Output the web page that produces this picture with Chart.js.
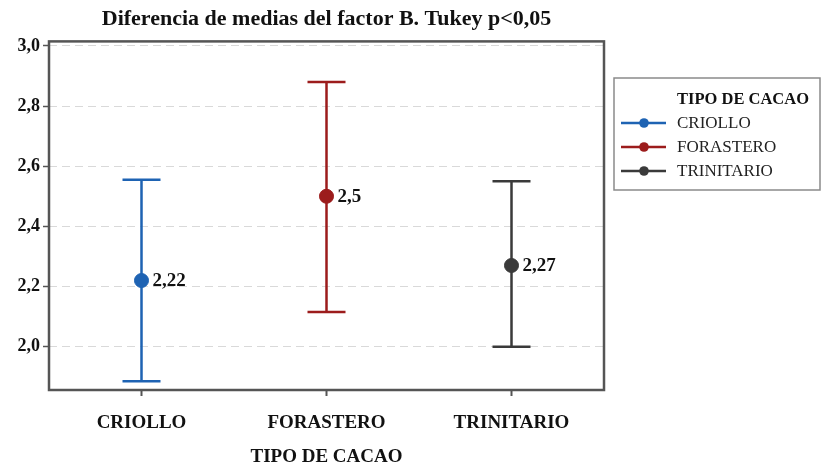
<!DOCTYPE html>
<html><head><meta charset="utf-8">
<script src="https://cdn.jsdelivr.net/npm/chart.js@4/dist/chart.umd.min.js"></script>
<style>html,body{margin:0;padding:0;background:#fff}#wrap{width:825px;height:470px}</style>
</head><body><div id="wrap"><canvas id="c" width="825" height="470"></canvas></div>
<script>
const categories = ['CRIOLLO', 'FORASTERO', 'TRINITARIO'];
const means = [2.22, 2.50, 2.27];
const upper = [2.555, 2.88, 2.55];
const lower = [1.885, 2.115, 2.0];
const meanLabels = ['2,22', '2,5', '2,27'];
const yTicks = [2.0, 2.2, 2.4, 2.6, 2.8, 3.0];
const colors = ['#1e63b3', '#9c1c1c', '#3a3a3a'];
const titleText = 'Diferencia de medias del factor B. Tukey p<0,05';
const axisTitle = 'TIPO DE CACAO';

const SERIF = '"Liberation Serif", "Times New Roman", serif';

const datasets = categories.map((c, i) => ({
  label: c,
  data: [{x: c, y: means[i]}],
  borderColor: colors[i],
  backgroundColor: colors[i],
  pointRadius: 7,
  pointHoverRadius: 7,
  showLine: false
}));

const errPlugin = {
  id: 'err',
  beforeDatasetsDraw(chart) {
    const ctx = chart.ctx, xs = chart.scales.x, ys = chart.scales.y;
    ctx.save();
    categories.forEach((c, i) => {
      const x = xs.getPixelForValue(i);
      const yt = ys.getPixelForValue(upper[i]);
      const yb = ys.getPixelForValue(lower[i]);
      ctx.strokeStyle = colors[i];
      ctx.lineWidth = 2.5;
      ctx.beginPath();
      ctx.moveTo(x, yt); ctx.lineTo(x, yb);
      ctx.moveTo(x - 19, yt); ctx.lineTo(x + 19, yt);
      ctx.moveTo(x - 19, yb); ctx.lineTo(x + 19, yb);
      ctx.stroke();
    });
    ctx.restore();
  },
  afterDatasetsDraw(chart) {
    const ctx = chart.ctx, xs = chart.scales.x, ys = chart.scales.y;
    ctx.save();
    ctx.font = 'bold 19px ' + SERIF;
    ctx.fillStyle = '#111';
    ctx.textBaseline = 'middle';
    ctx.textAlign = 'left';
    categories.forEach((c, i) => {
      ctx.fillText(meanLabels[i], xs.getPixelForValue(i) + 11, ys.getPixelForValue(means[i]) + 1);
    });
    // frame
    const a = chart.chartArea;
    ctx.strokeStyle = '#555';
    ctx.lineWidth = 2.5;
    ctx.strokeRect(a.left, a.top, a.right - a.left, a.bottom - a.top);
    // legend
    const lx = 614, ly = 78, lw = 206, lh = 112;
    ctx.strokeStyle = '#8a8a8a';
    ctx.lineWidth = 1.5;
    ctx.strokeRect(lx, ly, lw, lh);
    ctx.fillStyle = '#111';
    ctx.font = 'bold 16.5px ' + SERIF;
    ctx.textAlign = 'left';
    ctx.fillText(axisTitle, 677, 100);
    ctx.font = '17px ' + SERIF;
    categories.forEach((c, i) => {
      const yy = 123 + i * 24;
      ctx.strokeStyle = colors[i];
      ctx.lineWidth = 2.5;
      ctx.beginPath(); ctx.moveTo(621, yy); ctx.lineTo(666, yy); ctx.stroke();
      ctx.fillStyle = colors[i];
      ctx.beginPath(); ctx.arc(644, yy, 4.8, 0, Math.PI * 2); ctx.fill();
      ctx.fillStyle = '#222';
      ctx.fillText(c, 677, yy + 1);
    });
    ctx.restore();
  }
};

new Chart(document.getElementById('c'), {
  type: 'line',
  data: { labels: categories, datasets },
  options: {
    responsive: false,
    animation: false,
    layout: { padding: { left: 0, right: 221, top: 0, bottom: 0 } },
    plugins: {
      legend: { display: false },
      tooltip: { enabled: false },
      title: {
        display: true, text: titleText, fullSize: false,
        color: '#111', font: { family: SERIF, size: 22, weight: 'bold', lineHeight: 1.2 },
        padding: { top: 6, bottom: 9 }
      }
    },
    scales: {
      x: {
        type: 'category', offset: true,
        grid: { display: true, drawOnChartArea: false, drawTicks: true, tickLength: 6, tickColor: '#555', tickWidth: 2, offset: false },
        border: { display: false },
        ticks: { color: '#111', font: { family: SERIF, size: 19, weight: 'bold' }, padding: 16 },
        title: { display: true, text: axisTitle, color: '#111', font: { family: SERIF, size: 19, weight: 'bold' }, padding: { top: 4, bottom: 2 } },
        afterFit(s) { s.height = 80; }
      },
      y: {
        type: 'linear', min: 1.856, max: 3.015,
        afterBuildTicks(s) { s.ticks = yTicks.map(v => ({ value: v })); },
        grid: { color: '#d9d9d9', lineWidth: 1, tickLength: 6, tickColor: '#555', tickWidth: 1.5 },
        border: { display: false, dash: [8, 5] },
        ticks: { color: '#111', font: { family: SERIF, size: 18, weight: 'bold' }, padding: 3,
          callback: v => v.toFixed(1).replace('.', ',') },
        afterFit(s) { s.width = 49; }
      }
    }
  },
  plugins: [errPlugin]
});
</script>
</body></html>
